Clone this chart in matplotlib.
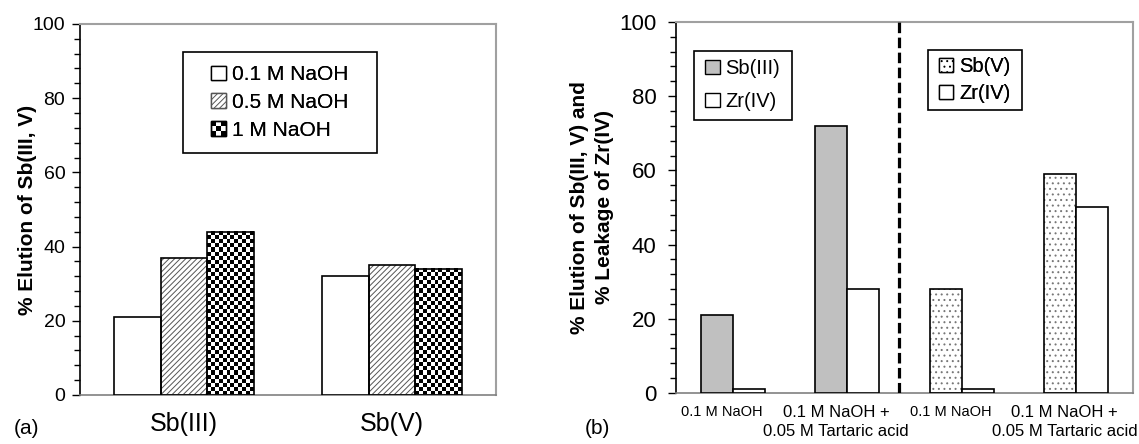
import numpy as np
import matplotlib
matplotlib.use("Agg")
import matplotlib.pyplot as plt
from matplotlib.patches import Patch, Rectangle
from matplotlib.legend_handler import HandlerBase
from matplotlib.ticker import MultipleLocator
from matplotlib.transforms import ScaledTranslation

plt.rcParams['font.family'] = ['Liberation Sans', 'DejaVu Sans']
plt.rcParams['hatch.linewidth'] = 0.7

# ------------------ data ------------------
# (a) elution of Sb with NaOH
species_a = ["Sb(III)", "Sb(V)"]
naoh_labels = ["0.1 M NaOH", "0.5 M NaOH", "1 M NaOH"]
elution_01 = [21, 32]
elution_05 = [37, 35]
elution_1 = [44, 34]

# (b) elution of Sb and leakage of Zr
eluents_b = ["0.1 M NaOH", "0.1 M NaOH +\n0.05 M Tartaric acid",
             "0.1 M NaOH", "0.1 M NaOH +\n0.05 M Tartaric acid"]
sb3_elution = [21, 72]
sb5_elution = [28, 59]
zr_leak_sb3 = [1, 28]
zr_leak_sb5 = [1, 50]
# ------------------------------------------

CELL_H = 1.1      # checker cell height, data units
CELL_COLS = 12    # checker columns per bar


class HandlerChecker(HandlerBase):
    def create_artists(self, legend, orig_handle, xdescent, ydescent,
                       width, height, fontsize, trans):
        side = min(width, height)
        x0 = -xdescent + (width - side) / 2
        y0 = -ydescent + (height - side) / 2
        n = 3
        c = side / n
        arts = []
        for i in range(n):
            for j in range(n):
                if (i + j) % 2 == 0:
                    arts.append(Rectangle((x0 + i * c, y0 + j * c), c, c,
                                          facecolor="black", edgecolor="none",
                                          transform=trans))
        arts.append(Rectangle((x0, y0), side, side, facecolor="none",
                              edgecolor="black", lw=1.0, transform=trans))
        return arts


def style_axes(ax, tick_size, pad):
    ax.set_ylim(0, 100)
    ax.yaxis.set_major_locator(MultipleLocator(20))
    ax.yaxis.set_minor_locator(MultipleLocator(4))
    ax.tick_params(axis="y", which="major", direction="out", length=6,
                   width=1, labelsize=tick_size, pad=pad)
    ax.tick_params(axis="y", which="minor", direction="out", length=4, width=1)
    ax.tick_params(axis="x", length=0)
    ax.spines["left"].set_color("black")
    ax.spines["left"].set_linewidth(1.2)
    ax.spines["bottom"].set_color("#808080")
    ax.spines["bottom"].set_linewidth(1.2)
    for s in ("top", "right"):
        ax.spines[s].set_color("#a0a0a0")
        ax.spines[s].set_linewidth(1.5)


def hatched_bars(ax, x, vals, width, hatch, hcolor):
    ax.bar(x, vals, width, facecolor="white", edgecolor=hcolor, hatch=hatch,
           linewidth=0, zorder=2)
    return ax.bar(x, vals, width, facecolor="none", edgecolor="black",
                  linewidth=1.2, zorder=3)


def checker_bars(ax, x, vals, width):
    bars = ax.bar(x, vals, width, facecolor="none", edgecolor="black",
                  linewidth=1.2, zorder=3)
    for rect in bars:
        x0 = rect.get_x()
        w = rect.get_width()
        h = rect.get_height()
        nrow = max(1, int(round(h / CELL_H)))
        board = np.add.outer(np.arange(nrow), np.arange(CELL_COLS)) % 2
        ax.imshow(board, cmap="gray", extent=(x0, x0 + w, 0, h), aspect="auto",
                  interpolation="nearest", origin="lower", zorder=2)
    return bars


def box_legend(ax, box, handles, labels, fontsize, spacing, handler_map=None):
    x0, y0, x1, y1 = box
    ax.add_patch(Rectangle((x0, y0), x1 - x0, y1 - y0, transform=ax.transAxes,
                           facecolor="white", edgecolor="black", lw=1.2,
                           zorder=5))
    leg = ax.legend(handles, labels, loc="center",
                    bbox_to_anchor=((x0 + x1) / 2, (y0 + y1) / 2),
                    frameon=False, fontsize=fontsize, handlelength=0.7,
                    handleheight=0.7, handletextpad=0.3,
                    labelspacing=spacing, borderpad=0, borderaxespad=0,
                    handler_map=handler_map)
    leg.set_zorder(6)
    ax.add_artist(leg)
    return leg


fig = plt.figure(figsize=(11.39, 4.44), dpi=100)

# ---------------- panel (a) ----------------
ax1 = fig.add_axes([0.0702, 0.1104, 0.3652, 0.8356])
xa = np.arange(len(species_a))
wa = 0.224
ax1.bar(xa - wa, elution_01, wa, facecolor="white", edgecolor="black",
        linewidth=1.2, zorder=3)
hatched_bars(ax1, xa, elution_05, wa, "//////", "#555555")
checker_bars(ax1, xa + wa, elution_1, wa)
style_axes(ax1, 14, 4.5)
ax1.set_xlim(-0.5, 1.5)
ax1.set_xticks(xa)
ax1.set_xticklabels(species_a, fontsize=18)
ax1.tick_params(axis="x", pad=12)
ax1.set_ylabel("% Elution of Sb(III, V)", fontsize=15, fontweight="bold",
               labelpad=-3)

h_white = Patch(facecolor="white", edgecolor="black", lw=1.0)
h_hatch = Patch(facecolor="white", edgecolor="#555555", hatch="//////", lw=1.0)
h_check = Patch(facecolor="white", edgecolor="black")
box_legend(ax1, (0.248, 0.652, 0.714, 0.925), [h_white, h_hatch, h_check],
           naoh_labels, 15, 0.42, handler_map={h_check: HandlerChecker()})

# ---------------- panel (b) ----------------
ax2 = fig.add_axes([0.5935, 0.1149, 0.4012, 0.8356])
xb = np.arange(len(eluents_b))
wb = 0.28
x_sb3 = xb[:2]
x_sb5 = xb[2:]
ax2.bar(x_sb3 - wb / 2, sb3_elution, wb, facecolor="#c0c0c0",
        edgecolor="black", linewidth=1.2, zorder=3)
ax2.bar(x_sb3 + wb / 2, zr_leak_sb3, wb, facecolor="white",
        edgecolor="black", linewidth=1.2, zorder=3)
hatched_bars(ax2, x_sb5 - wb / 2, sb5_elution, wb, "...", "#777777")
ax2.bar(x_sb5 + wb / 2, zr_leak_sb5, wb, facecolor="white",
        edgecolor="black", linewidth=1.2, zorder=3)
ax2.axvline(1.45, color="black", lw=2.3, linestyle=(0, (3.3, 1.4)), zorder=4)
style_axes(ax2, 16, 8)
ax2.set_xlim(-0.5, 3.5)
ax2.set_xticks(xb)
ax2.tick_params(axis="x", pad=9)
ax2.set_xticklabels(eluents_b)
shift = ScaledTranslation(-8 / 72, 0, fig.dpi_scale_trans)
for lab, txt in zip(ax2.get_xticklabels(), eluents_b):
    lab.set_fontsize(12 if "\n" in txt else 10.5)
    lab.set_multialignment("center")
    lab.set_linespacing(1.3)
    lab.set_transform(lab.get_transform() + shift)
ax2.set_ylabel("% Elution of Sb(III, V) and\n% Leakage of Zr(IV)",
               fontsize=15, fontweight="bold", labelpad=4, linespacing=1.4)

h_gray = Patch(facecolor="#c0c0c0", edgecolor="black", lw=1.0)
h_zr = Patch(facecolor="white", edgecolor="black", lw=1.0)
h_dots = Patch(facecolor="white", edgecolor="black", hatch="...", lw=1.0)
box_legend(ax2, (0.039, 0.736, 0.254, 0.922), [h_gray, h_zr],
           ["Sb(III)", "Zr(IV)"], 14.5, 0.7)
box_legend(ax2, (0.551, 0.763, 0.757, 0.925), [h_dots, h_zr],
           ["Sb(V)", "Zr(IV)"], 14.5, 0.4)

fig.text(0.012, 0.036, "(a)", fontsize=15, va="center")
fig.text(0.513, 0.036, "(b)", fontsize=15, va="center")

fig.savefig("out.png", dpi=100)
